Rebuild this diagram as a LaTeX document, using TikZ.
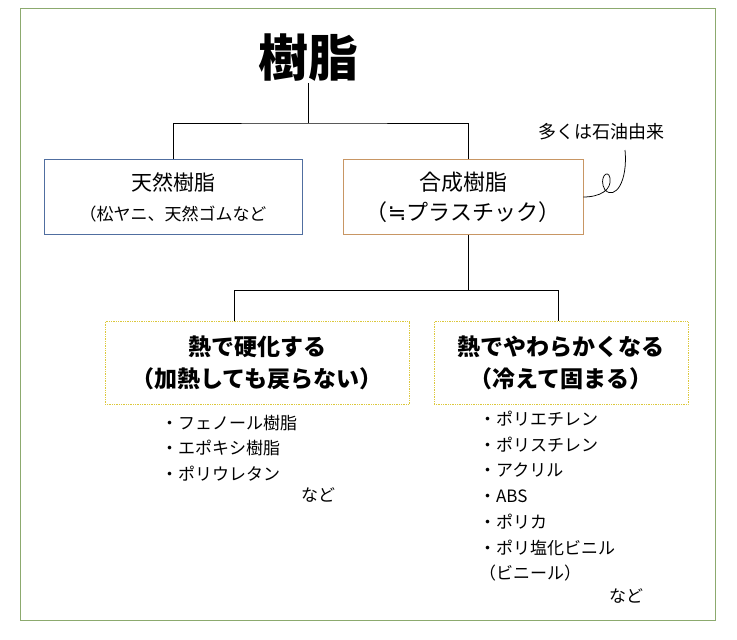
\documentclass[tikz,border=0pt]{standalone}
\usepackage{fontspec}
\setmainfont{Noto Sans CJK JP}
\newfontfamily\symfont{DejaVu Sans}
\tikzset{every picture/.style={line width=0.75pt}}
\begin{document}
\begin{tikzpicture}[x=1pt,y=1pt,yscale=-1,xscale=1]
\useasboundingbox (0,0) rectangle (737,640);
%Frame
\draw [color={rgb, 255:red, 140; green, 170; blue, 110 }] (20,8) rectangle (715,620);

% Title
\node (title) at (308,58) [inner sep=0.75pt, font=\fontsize{50}{54}\selectfont\bfseries] {樹脂};

% Boxes
\node (natural) at (173,197) [draw={rgb, 255:red, 80; green, 110; blue, 160 }, minimum width=258, minimum height=75, align=center, inner sep=0.75pt, font=\fontsize{21}{30}\selectfont] {天然樹脂\\{\fontsize{17}{24}\selectfont （松ヤニ、天然ゴムなど}};
\node (synthetic) at (463,197) [draw={rgb, 255:red, 200; green, 150; blue, 100 }, minimum width=240, minimum height=75, align=center, inner sep=0.75pt, font=\fontsize{22}{30}\selectfont] {合成樹脂\\（{\symfont ≒}プラスチック）};
\node (thermoset) at (257,363) [draw={rgb, 255:red, 220; green, 200; blue, 60 }, densely dotted, minimum width=304, minimum height=83, align=center, inner sep=0.75pt, font=\fontsize{23}{32}\selectfont\bfseries] {熱で硬化する\\（加熱しても戻らない）};
\node (thermoplastic) at (561,363) [draw={rgb, 255:red, 220; green, 200; blue, 60 }, densely dotted, minimum width=254, minimum height=83, align=center, inner sep=0.75pt, font=\fontsize{23}{32}\selectfont\bfseries] {熱でやわらかくなる\\（冷えて固まる）};

% Connectors
\draw (title.south) -- (308,123) coordinate (top);
\draw (natural.north) |- (top) -| (synthetic.north -| 468,0);
\draw (synthetic.south -| 468,0) -- (468,290) coordinate (mid);
\draw (thermoset.north -| 234,0) -- (234,290) -- (558,290) -- (thermoplastic.north -| 558,0);

% Lists
\node (listA) at (160,414) [anchor=north west, align=left, inner sep=0.75pt, font=\fontsize{17}{25.5}\selectfont] {・フェノール樹脂\\・エポキシ樹脂\\・ポリウレタン};
\node (etcA) at (300,487) [anchor=north west, inner sep=0.75pt, font=\fontsize{17}{20}\selectfont] {など};
\node (listB) at (478,410) [anchor=north west, align=left, inner sep=0.75pt, font=\fontsize{17}{25.7}\selectfont] {・ポリエチレン\\・ポリスチレン\\・アクリル\\・ABS\\・ポリカ\\・ポリ塩化ビニル\\ （ビニール）};
\node (etcB) at (608,588) [anchor=north west, inner sep=0.75pt, font=\fontsize{17}{20}\selectfont] {など};

% Note
\node (note) at (601,132) [inner sep=0.75pt, font=\fontsize{18}{20}\selectfont] {多くは石油由来};
\draw (synthetic.east |- 0,197) .. controls (600,197) and (612,190) .. (610,178) .. controls (608,168) and (598,178) .. (605,190) .. controls (615,200) and (628,182) .. (625,150);
\end{tikzpicture}
\end{document}
